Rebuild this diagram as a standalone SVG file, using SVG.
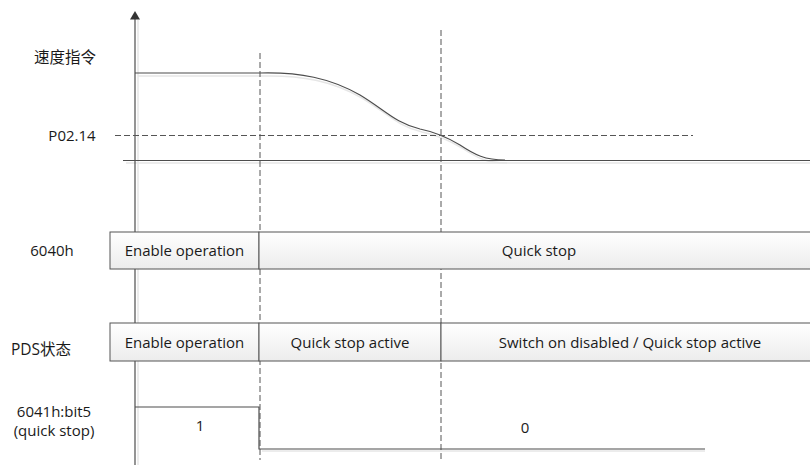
<svg xmlns="http://www.w3.org/2000/svg" width="810" height="465" viewBox="0 0 810 465">
<style>
.t{font-family:"Open Sans","Noto Sans CJK SC",sans-serif;font-size:15px;fill:#1a1a1a}
.cj{font-size:15.5px}
.ln{fill:none;stroke:#4d4d4d;stroke-width:1.2}
.dash{fill:none;stroke:#555;stroke-width:1;stroke-dasharray:6 3}
.box{fill:url(#g);stroke:#555;stroke-width:1}
.sh{fill:none;stroke:#e6e6e6;stroke-width:1.5}
</style>
<defs>
<linearGradient id="g" x1="0" y1="0" x2="0" y2="1">
<stop offset="0" stop-color="#ffffff"/>
<stop offset="1" stop-color="#ececec"/>
</linearGradient>
</defs>
<g id="labels">
<text class="t cj" x="65" y="63" text-anchor="middle">速度指令</text>
<text class="t" x="72" y="141" text-anchor="middle">P02.14</text>
<text class="t" x="52" y="256" text-anchor="middle">6040h</text>
<text class="t cj" x="41" y="355" text-anchor="middle">PDS状态</text>
<text class="t" x="54" y="417" text-anchor="middle">6041h:bit5</text>
<text class="t" x="54" y="436" text-anchor="middle">(quick stop)</text>
</g>
<g id="connectors">
<g id="shadows">
<path class="sh" d="M138,20 V465"/>
<path class="sh" d="M138,76 H262"/>
<path class="sh" d="M262,76 C302,75 332,81 362,98 C387,113 397,126 422,132 C437,135 447,139 462,148 C477,158 487,163 507,163"/>
<path class="sh" d="M126,163 H810"/>
<path class="sh" d="M262,451 H705"/>
</g>
<path class="ln" d="M135,465 V18"/>
<path d="M130,19.5 L135,11 L140,19.5 Z" fill="#333"/>
<path class="ln" d="M135,73 H260"/>
<path class="ln" d="M260,73 C300,72 330,78 360,95 C385,110 395,123 420,129 C435,132 445,136 460,145 C475,155 485,160 505,160" stroke-width="1"/>
<path class="ln" d="M123,160.5 H810"/>
<path class="dash" d="M115,135.5 H693"/>
<path class="dash" d="M260,53 V460"/>
<path class="dash" d="M441,30 V460"/>
<path class="ln" d="M135,407 H259 V449 H705"/>
</g>
<g id="row6040">
<rect class="box" x="110" y="232" width="149" height="37"/>
<rect class="box" x="259" y="232" width="560" height="37"/>
<text class="t" x="184.5" y="255.5" text-anchor="middle">Enable operation</text>
<text class="t" x="539" y="255.5" text-anchor="middle">Quick stop</text>
</g>
<g id="rowPDS">
<rect class="box" x="110" y="323" width="149" height="38"/>
<rect class="box" x="259" y="323" width="182" height="38"/>
<rect class="box" x="441" y="323" width="378" height="38"/>
<text class="t" x="184.5" y="347.5" text-anchor="middle">Enable operation</text>
<text class="t" x="350" y="347.5" text-anchor="middle">Quick stop active</text>
<text class="t" x="630" y="347.5" text-anchor="middle">Switch on disabled ∕ Quick stop active</text>
</g>
<g id="values">
<text class="t" x="200" y="431" text-anchor="middle">1</text>
<text class="t" x="525" y="433" text-anchor="middle">0</text>
</g>
</svg>
